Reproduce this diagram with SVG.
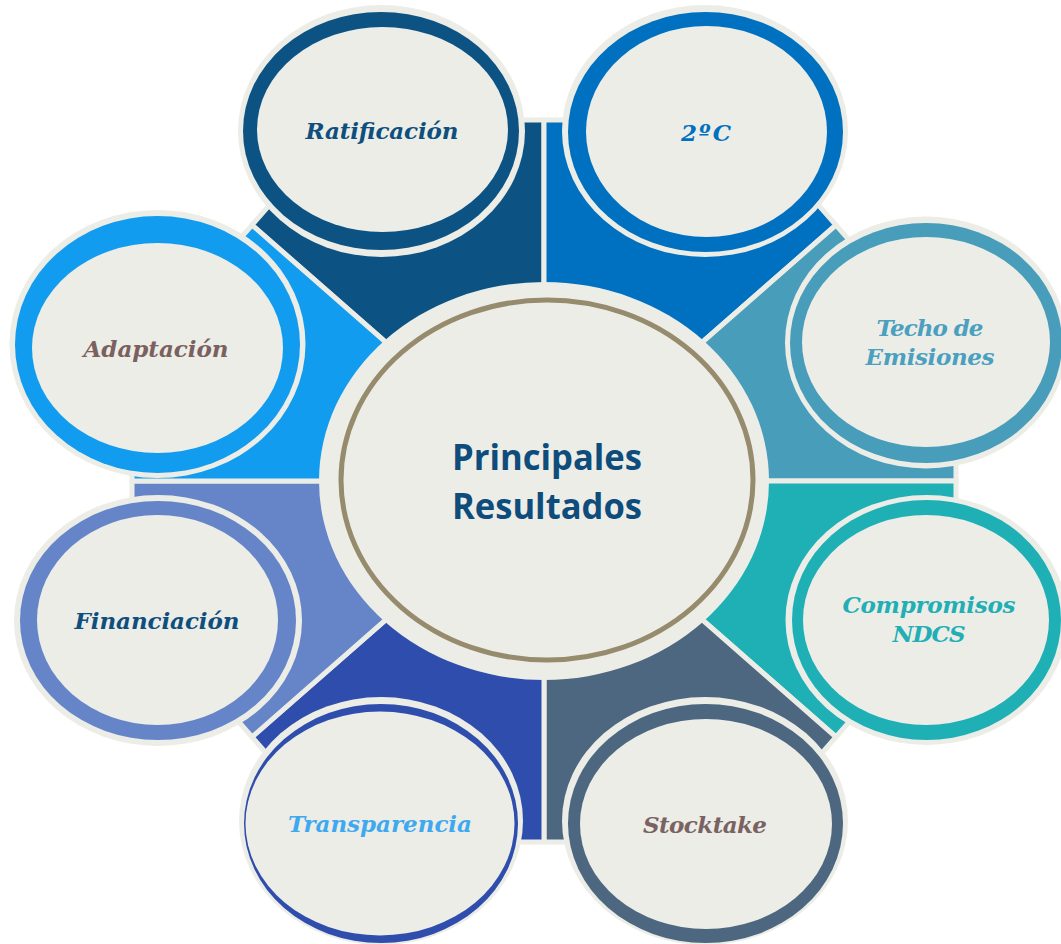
<svg xmlns="http://www.w3.org/2000/svg" width="1061" height="944" viewBox="0 0 1061 944">
<style>
.sec{stroke:#ECEDE7;stroke-width:5;stroke-linejoin:miter}
.lt{fill:#ECEDE7}
.lbl{font-family:"DejaVu Serif","Liberation Serif",serif;font-weight:bold;font-style:italic;font-size:23px;text-anchor:middle}
.ctr{font-family:"Open Sans","Liberation Sans",sans-serif;font-weight:bold;font-size:36px;fill:#0E4C7C;text-anchor:middle}
</style>
<rect width="1061" height="944" fill="#FFFFFF"/>
<g id="sectors">
<polygon class="sec" fill="#0C5283" points="544,481 544,120 344,120 252,225"/>
<polygon class="sec" fill="#0070C0" points="544,481 836,225 744,120 544,120"/>
<polygon class="sec" fill="#479DBA" points="544,481 956,481 956,362 836,225"/>
<polygon class="sec" fill="#1FB0B6" points="544,481 836,737 956,600 956,481"/>
<polygon class="sec" fill="#4C677F" points="544,481 544,842 744,842 836,737"/>
<polygon class="sec" fill="#2F4DAD" points="544,481 252,737 344,842 544,842"/>
<polygon class="sec" fill="#6685C9" points="544,481 132,481 132,600 252,737"/>
<polygon class="sec" fill="#129CEF" points="544,481 252,225 132,362 132,481"/>
</g>
<g id="center">
<ellipse class="lt" cx="544" cy="481" rx="225" ry="199"/>
<ellipse cx="547" cy="480" rx="206" ry="180" fill="#ECEDE7" stroke="#978B6D" stroke-width="5"/>
<text class="ctr" x="547" y="470" textLength="190" lengthAdjust="spacingAndGlyphs">Principales</text>
<text class="ctr" x="547" y="519" textLength="190" lengthAdjust="spacingAndGlyphs">Resultados</text>
</g>
<g id="ratificacion">
<ellipse class="lt" cx="381.5" cy="131" rx="143.5" ry="126"/>
<ellipse fill="#0C5283" cx="381" cy="131" rx="138" ry="119"/>
<ellipse class="lt" cx="382.5" cy="129.5" rx="125.5" ry="102.5"/>
<text class="lbl" x="382" y="139" fill="#0E4F7E" textLength="153">Ratificación</text>
</g>
<g id="dos-grados">
<ellipse class="lt" cx="705" cy="131" rx="143" ry="126"/>
<ellipse fill="#0070C0" cx="705.5" cy="132" rx="137.5" ry="120"/>
<ellipse class="lt" cx="706.5" cy="131.5" rx="120.5" ry="105.5"/>
<text class="lbl" x="706" y="141" fill="#0070C0" textLength="50">2ºC</text>
</g>
<g id="techo">
<ellipse class="lt" cx="926" cy="342.5" rx="141" ry="126"/>
<ellipse fill="#479DBA" cx="926" cy="343" rx="136" ry="120"/>
<ellipse class="lt" cx="926" cy="342" rx="124" ry="105"/>
<text class="lbl" x="930" y="336" fill="#4B9FBF" textLength="107">Techo de</text>
<text class="lbl" x="930" y="365" fill="#4B9FBF" textLength="129">Emisiones</text>
</g>
<g id="compromisos">
<ellipse class="lt" cx="926.5" cy="620" rx="141" ry="125"/>
<ellipse fill="#1FB0B6" cx="926.5" cy="620" rx="134.5" ry="120"/>
<ellipse class="lt" cx="926" cy="620" rx="123" ry="105"/>
<text class="lbl" x="929" y="613" fill="#21AFB5" textLength="173">Compromisos</text>
<text class="lbl" x="929" y="642" fill="#21AFB5" textLength="73">NDCS</text>
</g>
<g id="stocktake">
<ellipse class="lt" cx="705" cy="821" rx="143" ry="124"/>
<ellipse fill="#4C677F" cx="705.5" cy="823.5" rx="137.5" ry="119.5"/>
<ellipse class="lt" cx="706" cy="824" rx="126" ry="105"/>
<text class="lbl" x="705" y="833" fill="#7A6262" textLength="124">Stocktake</text>
</g>
<g id="transparencia">
<ellipse class="lt" cx="381" cy="821" rx="142" ry="124"/>
<ellipse fill="#2F4DAD" cx="381" cy="823.5" rx="137" ry="119.5"/>
<ellipse class="lt" cx="380" cy="823.5" rx="134.5" ry="112"/>
<text class="lbl" x="380" y="832" fill="#3FA9F0" textLength="184">Transparencia</text>
</g>
<g id="financiacion">
<ellipse class="lt" cx="158" cy="620.5" rx="144" ry="125.5"/>
<ellipse fill="#6685C9" cx="158" cy="620.5" rx="138" ry="119.5"/>
<ellipse class="lt" cx="157.5" cy="620" rx="120.5" ry="105"/>
<text class="lbl" x="157" y="629" fill="#0E4F7E" textLength="165">Financiación</text>
</g>
<g id="adaptacion">
<ellipse class="lt" cx="157.5" cy="344" rx="148" ry="134"/>
<ellipse fill="#129CEF" cx="157.5" cy="344.5" rx="142.5" ry="128.5"/>
<ellipse class="lt" cx="157.5" cy="348" rx="125.5" ry="105"/>
<text class="lbl" x="156" y="357" fill="#7B6060" textLength="145">Adaptación</text>
</g>
</svg>
